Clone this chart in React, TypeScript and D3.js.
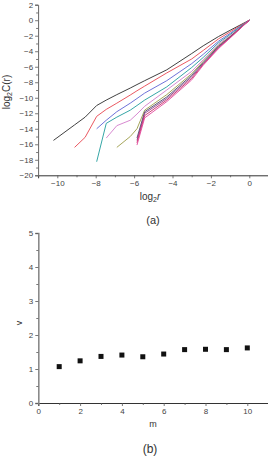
import React, { useRef, useEffect } from "react";
import * as d3 from "d3";

// log2 r grid shared by every embedding dimension
const logR = [-10.2, -9.1, -8.55, -7.95, -7.45, -6.9, -6.2, -5.85, -5.45, -4.3, -3.0, -2.4, -1.6, -1.0, 0];

// log2 C(r) for m = 1..10 (null where the sum is empty)
const c1 = [-15.5, -13.5, -12.5, -11.0, -10.3, -9.6, -8.75, -8.3, -7.8, -6.4, -4.3, -3.3, -2.1, -1.3, 0];
const c2 = [null, -16.4, -15.1, -12.4, -11.5, -10.7, -9.65, -9.1, -8.5, -6.8, -5.0, -3.9, -2.4, -1.5, 0];
const c3 = [null, null, null, -14.0, -12.9, -11.8, -10.7, -10.1, -9.4, -7.8, -5.6, -4.4, -2.7, -1.7, 0];
const c4 = [null, null, null, -18.25, -13.3, -12.5, -11.6, -11.0, -10.3, -8.6, -6.1, -4.8, -2.9, -1.85, 0];
const c5 = [null, null, null, null, -15.2, -13.6, -12.9, -12.1, -11.1, -9.0, -6.6, -5.1, -3.1, -2.0, 0];
const c6 = [null, null, null, null, null, -16.4, -15.0, -14.0, -11.6, -9.6, -6.9, -5.3, -3.25, -2.1, 0];
const c7 = [null, null, null, null, null, null, null, -15.2, -11.8, -9.9, -7.1, -5.45, -3.35, -2.15, 0];
const c8 = [null, null, null, null, null, null, null, -15.5, -12.0, -10.1, -7.3, -5.6, -3.45, -2.2, 0];
const c9 = [null, null, null, null, null, null, null, -15.8, -12.3, -10.3, -7.5, -5.7, -3.55, -2.25, 0];
const c10 = [null, null, null, null, null, null, null, -16.1, -12.6, -10.5, -7.7, -5.8, -3.65, -2.3, 0];

const curves = [c1, c2, c3, c4, c5, c6, c7, c8, c9, c10];
const curveColors = [
  "#2b2b2b", "#e8454f", "#5d62d4", "#1f9c9c", "#d27ccb",
  "#9c9c48", "#4a4a66", "#8a3c8a", "#c82a64", "#e2479c",
];

// correlation exponent v against embedding dimension m
const mVals = [1, 2, 3, 4, 5, 6, 7, 8, 9, 10];
const vVals = [1.07, 1.24, 1.37, 1.41, 1.36, 1.44, 1.57, 1.58, 1.57, 1.62];

const font = "Liberation Sans, Arial, sans-serif";

const range = (a: number, b: number, step: number) => d3.range(a, b + step / 2, step);

const App: React.FC = () => {
  const svgRef = useRef<SVGSVGElement>(null);

  useEffect(() => {
    if (!svgRef.current) return;
    const svg = d3.select(svgRef.current);
    svg.selectAll("*").remove();

    const styleAxis = (g: any, stroke: string, width: number) => {
      g.select(".domain").attr("stroke", stroke).attr("stroke-width", width);
      g.selectAll(".tick line").attr("stroke", "#555").attr("stroke-width", 0.8);
      g.selectAll(".tick text")
        .attr("fill", "#444")
        .attr("font-family", font)
        .attr("font-size", 8);
    };

    // ---- (a) correlation integrals ----
    const x1 = d3.scaleLinear().domain([-11, 1]).range([38.1, 268.5]);
    const y1 = d3.scaleLinear().domain([-20, 2]).range([175.3, 4.7]);

    const top = svg.append("g");

    const line = d3
      .line<number | null>()
      .defined((d) => d !== null)
      .x((_, i) => x1(logR[i]))
      .y((d) => y1(d as number));

    curves.forEach((c, i) => {
      top
        .append("path")
        .datum(c)
        .attr("fill", "none")
        .attr("stroke", curveColors[i])
        .attr("stroke-width", 0.9)
        .attr("stroke-linejoin", "round")
        .attr("d", line);
    });

    const xa1 = top.append("g").attr("transform", `translate(0,${y1(-20)})`);
    xa1.call(d3.axisBottom(x1).tickValues(range(-10, 0, 2)).tickSize(3).tickPadding(2).tickFormat(d3.format("d")));
    styleAxis(xa1, "#333", 1);
    top.append("g").attr("transform", `translate(0,${y1(-20)})`)
      .call(d3.axisBottom(x1).tickValues(range(-11, 1, 2)).tickSize(2).tickFormat(() => ""))
      .call((g: any) => { g.select(".domain").remove(); g.selectAll("line").attr("stroke", "#555").attr("stroke-width", 0.8); });

    const ya1 = top.append("g").attr("transform", `translate(${x1(-11)},0)`);
    ya1.call(d3.axisLeft(y1).tickValues(range(-20, 2, 2)).tickSize(3).tickPadding(2).tickFormat(d3.format("d")));
    styleAxis(ya1, "#666", 1);
    top.append("g").attr("transform", `translate(${x1(-11)},0)`)
      .call(d3.axisLeft(y1).tickValues(range(-19, 1, 2)).tickSize(2).tickFormat(() => ""))
      .call((g: any) => { g.select(".domain").remove(); g.selectAll("line").attr("stroke", "#555").attr("stroke-width", 0.8); });

    const yl = top.append("text")
      .attr("transform", `translate(10,92) rotate(-90)`)
      .attr("text-anchor", "middle")
      .attr("font-family", font)
      .attr("font-size", 10)
      .attr("fill", "#333");
    yl.append("tspan").text("log");
    yl.append("tspan").attr("font-size", 7).attr("dy", 2).text("2");
    yl.append("tspan").attr("dy", -2).text("C(r)");

    const xl = top.append("text")
      .attr("x", 150)
      .attr("y", 200)
      .attr("text-anchor", "middle")
      .attr("font-family", font)
      .attr("font-size", 10)
      .attr("fill", "#333");
    xl.append("tspan").text("log");
    xl.append("tspan").attr("font-size", 7).attr("dy", 2).text("2");
    xl.append("tspan").attr("dy", -2).attr("font-style", "italic").text("r");

    top.append("text")
      .attr("x", 153)
      .attr("y", 224)
      .attr("text-anchor", "middle")
      .attr("font-family", font)
      .attr("font-size", 11)
      .attr("fill", "#333")
      .text("(a)");

    // ---- (b) v versus m ----
    const x2 = d3.scaleLinear().domain([0, 11]).range([38.3, 268.2]);
    const y2 = d3.scaleLinear().domain([0, 5]).range([403, 233]);

    const bot = svg.append("g");

    const xa2 = bot.append("g").attr("transform", `translate(0,${y2(0)})`);
    xa2.call(d3.axisBottom(x2).tickValues(range(0, 10, 2)).tickSize(3).tickPadding(2).tickFormat(d3.format("d")));
    styleAxis(xa2, "#333", 1);
    bot.append("g").attr("transform", `translate(0,${y2(0)})`)
      .call(d3.axisBottom(x2).tickValues(range(1, 11, 2)).tickSize(2).tickFormat(() => ""))
      .call((g: any) => { g.select(".domain").remove(); g.selectAll("line").attr("stroke", "#555").attr("stroke-width", 0.8); });

    const ya2 = bot.append("g").attr("transform", `translate(${x2(0)},0)`);
    ya2.call(d3.axisLeft(y2).tickValues(range(0, 5, 1)).tickSize(3).tickPadding(2).tickFormat(d3.format("d")));
    styleAxis(ya2, "#8a8a8a", 1.6);
    bot.append("g").attr("transform", `translate(${x2(0)},0)`)
      .call(d3.axisLeft(y2).tickValues(range(0.5, 4.5, 1)).tickSize(2).tickFormat(() => ""))
      .call((g: any) => { g.select(".domain").remove(); g.selectAll("line").attr("stroke", "#555").attr("stroke-width", 0.8); });

    bot.selectAll("rect.pt")
      .data(mVals)
      .join("rect")
      .attr("class", "pt")
      .attr("x", (d) => x2(d) - 2.5)
      .attr("y", (_, i) => y2(vVals[i]) - 2.5)
      .attr("width", 5)
      .attr("height", 5)
      .attr("fill", "#111");

    bot.append("text")
      .attr("transform", `translate(22,323) rotate(-90)`)
      .attr("text-anchor", "middle")
      .attr("font-family", font)
      .attr("font-size", 9)
      .attr("fill", "#333")
      .text("v");

    bot.append("text")
      .attr("x", 153)
      .attr("y", 427)
      .attr("text-anchor", "middle")
      .attr("font-family", font)
      .attr("font-size", 9)
      .attr("fill", "#333")
      .text("m");

    bot.append("text")
      .attr("x", 150)
      .attr("y", 453)
      .attr("text-anchor", "middle")
      .attr("font-family", font)
      .attr("font-size", 12)
      .attr("fill", "#333")
      .text("(b)");
  }, []);

  return (
    <svg
      ref={svgRef}
      width={268}
      height={457}
      style={{ position: "absolute", left: 0, top: 0, background: "#fff" }}
    />
  );
};

export default App;
